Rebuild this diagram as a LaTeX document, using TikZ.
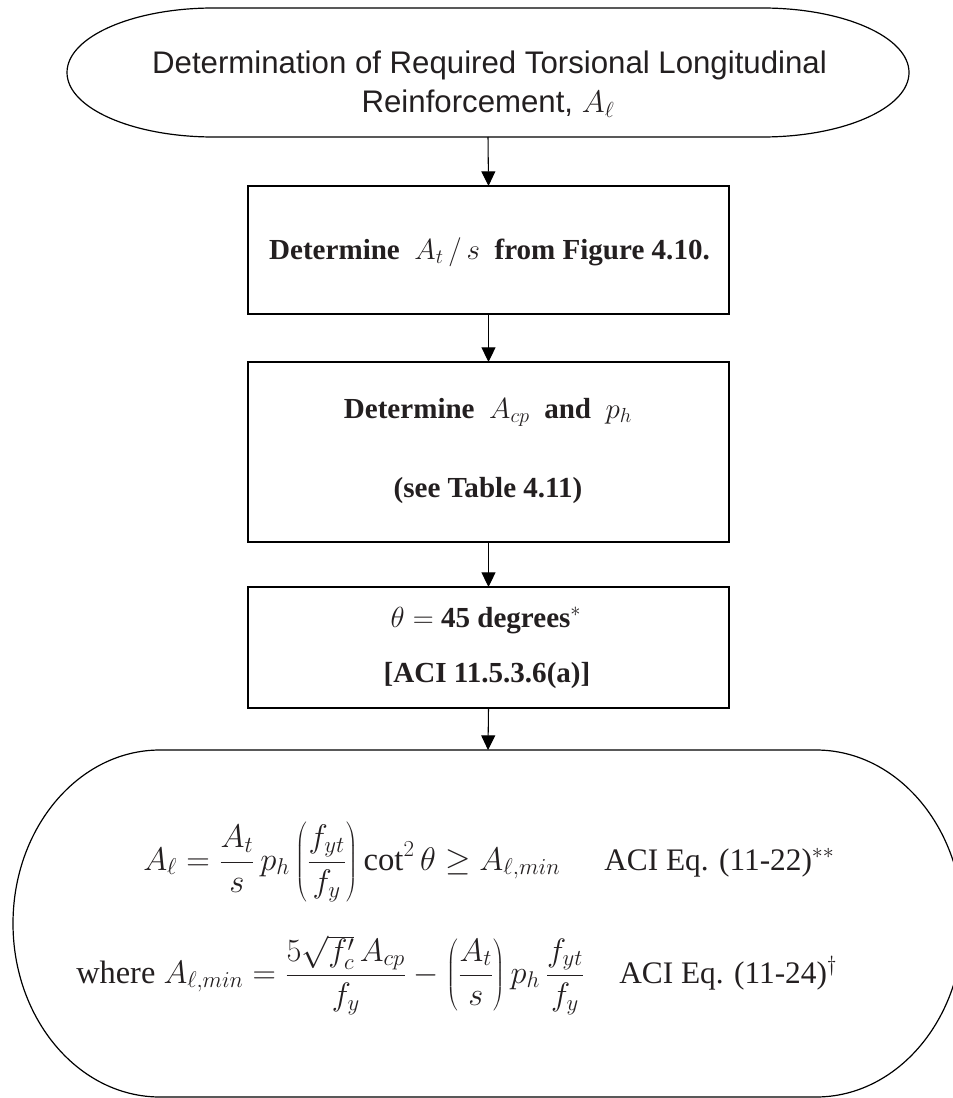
\RequirePackage{fix-cm}
\documentclass[tikz,border=0pt]{standalone}
\usepackage{fontspec}
\setmainfont{Liberation Serif}
\newfontfamily\titlefamily{Liberation Sans}
\usetikzlibrary{arrows.meta,calc}
\definecolor{inkc}{RGB}{35,31,32}
\newcommand{\termoutline}[3]{%
  \draw[termline] ($(#1.north west)+(#2,0pt)$) -- ($(#1.north east)+(-#2,0pt)$)
    arc[start angle=90,end angle=-90,x radius=#2,y radius=#3]
    -- ($(#1.south west)+(#2,0pt)$)
    arc[start angle=270,end angle=90,x radius=#2,y radius=#3] -- cycle;}
\tikzset{
  termline/.style={draw=black,line width=0.9pt},
  shapebox/.style={inner sep=0pt,outer sep=0pt},
  procbox/.style={draw=black,line width=1.1pt,inner sep=0pt,outer sep=0pt,minimum width=360.75pt},
  arr/.style={draw=black,line width=0.8pt,-{Triangle[length=11pt,width=10.5pt]}},
  txt/.style={anchor=base,inner sep=0pt,text=inkc},
  txtw/.style={anchor=base west,inner sep=0pt,text=inkc},
  titletxt/.style={txt,font=\titlefamily\fontsize{23.4}{28}\selectfont},
  boxtxt/.style={txt,font=\bfseries\fontsize{21.8}{26}\selectfont},
  eqtxt/.style={txtw,font=\fontsize{23.5}{28}\selectfont},
}
\begin{document}
\begin{tikzpicture}[x=0.75pt,y=-0.75pt]
\useasboundingbox (0,0) rectangle (952,1098);
% shapes
\node[shapebox,minimum width=631.5pt,minimum height=96.75pt] (t1) at (488,72.5) {};
\termoutline{t1}{110pt}{48.375pt}
\node[procbox,minimum height=96pt] (b1) at (488.5,250) {};
\node[procbox,minimum height=135pt] (b2) at (488.5,452) {};
\node[procbox,minimum height=90.75pt] (b3) at (488.5,647.5) {};
\node[shapebox,minimum width=712.5pt,minimum height=260.25pt] (t2) at (488,923.5) {};
\termoutline{t2}{110.25pt}{130.125pt}
% texts
\node[titletxt] (tt1) at (489.5,74) {Determination of Required Torsional Longitudinal};
\node[titletxt] (tt2) at (488,113) {Reinforcement, $A_\ell$};
\node[boxtxt] (bt1) at (489.5,259) {Determine \ $A_t\,/\,s$ \ from Figure 4.10.};
\node[boxtxt] (bt2a) at (488,418) {Determine \ $A_{cp}$ \ and \ $p_h$};
\node[boxtxt] (bt2b) at (488,497) {(see Table 4.11)};
\node[boxtxt] (bt3a) at (486,627) {$\theta=$ 45 degrees$^{*}$};
\node[boxtxt] (bt3b) at (487,682) {[ACI 11.5.3.6(a)]};
\node[eqtxt,font=\fontsize{24.5}{29}\selectfont] (eq1) at (143,870) {$\displaystyle A_\ell = \frac{A_t}{s}\,p_h\left(\frac{f_{yt}}{f_y}\right)\cot^2\theta \geq A_{\ell,min}$};
\node[eqtxt] (aci1) at (604,870) {ACI Eq. (11-22)$^{**}$};
\node[eqtxt,font=\fontsize{24.3}{29}\selectfont] (eq2) at (76,983) {where $\displaystyle A_{\ell,min} = \frac{5\sqrt{f_c'}\,A_{cp}}{f_y} - \left(\frac{A_t}{s}\right)p_h\,\frac{f_{yt}}{f_y}$};
\node[eqtxt] (aci2) at (619,983) {ACI Eq. (11-24)$^{\dagger}$};
% connectors
\draw[arr] (t1.south) -- (b1.north);
\draw[arr] (b1.south) -- (b2.north);
\draw[arr] (b2.south) -- (b3.north);
\draw[arr] (b3.south) -- (t2.north);
\end{tikzpicture}
\end{document}
